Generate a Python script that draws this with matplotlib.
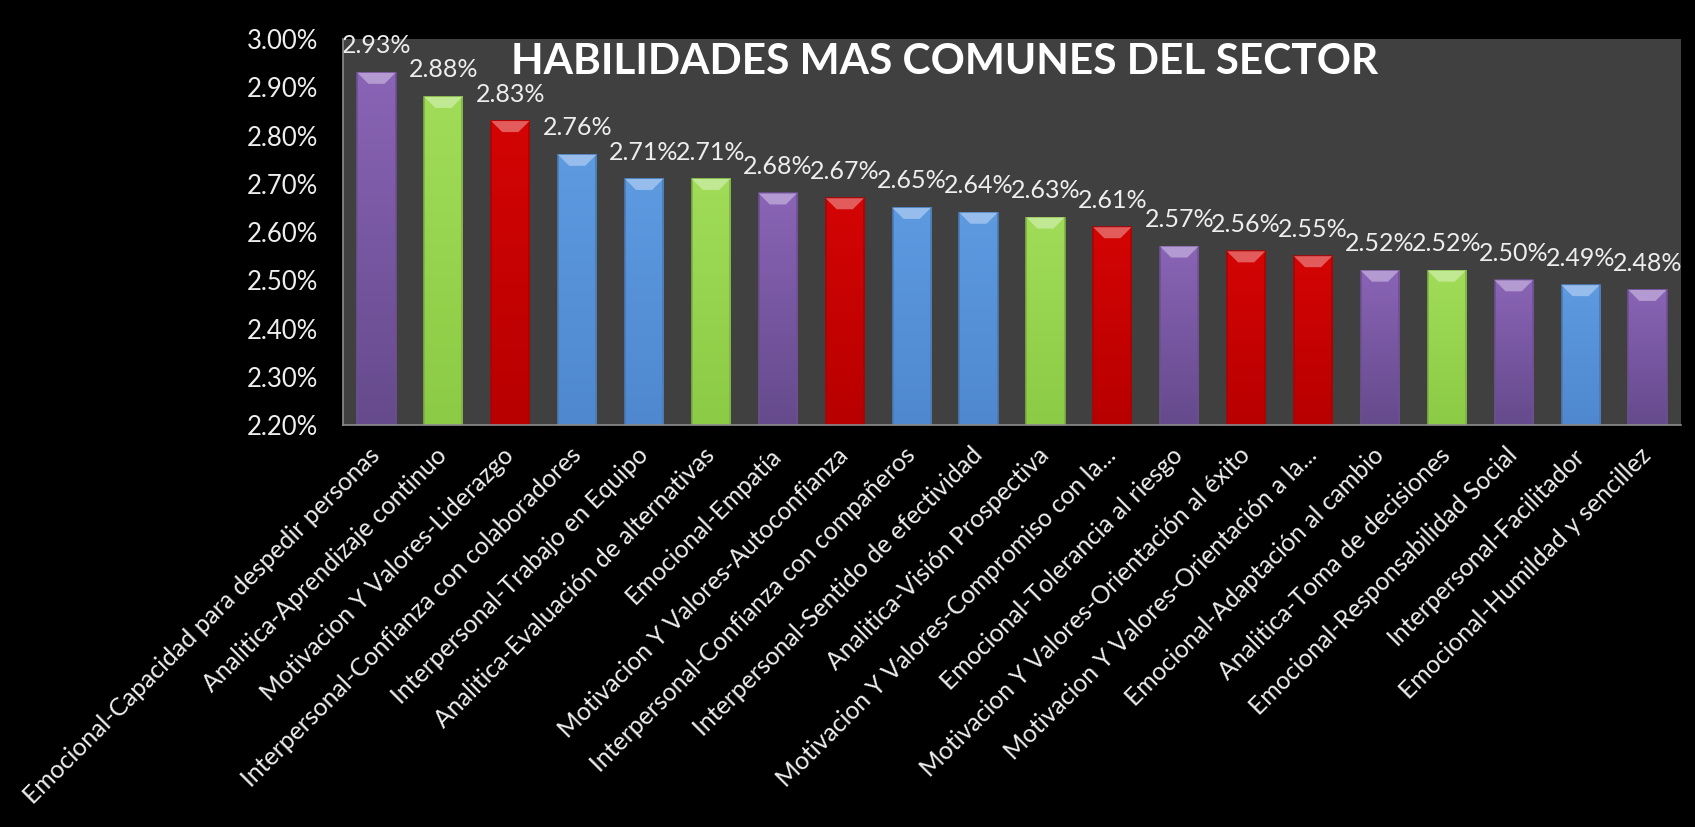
import numpy as np
import matplotlib
matplotlib.use("Agg")
import matplotlib.pyplot as plt
from matplotlib.patches import Polygon, Rectangle
from matplotlib.colors import LinearSegmentedColormap, to_rgb
from matplotlib.ticker import FuncFormatter

# ── data ─────────────────────────────────────
habilidades = [
    "Emocional-Capacidad para despedir personas",
    "Analitica-Aprendizaje continuo",
    "Motivacion Y Valores-Liderazgo",
    "Interpersonal-Confianza con colaboradores",
    "Interpersonal-Trabajo en Equipo",
    "Analitica-Evaluación de alternativas",
    "Emocional-Empatía",
    "Motivacion Y Valores-Autoconfianza",
    "Interpersonal-Confianza con compañeros",
    "Interpersonal-Sentido de efectividad",
    "Analitica-Visión Prospectiva",
    "Motivacion Y Valores-Compromiso con la...",
    "Emocional-Tolerancia al riesgo",
    "Motivacion Y Valores-Orientación al éxito",
    "Motivacion Y Valores-Orientación a la...",
    "Emocional-Adaptación al cambio",
    "Analitica-Toma de decisiones",
    "Emocional-Responsabilidad Social",
    "Interpersonal-Facilitador",
    "Emocional-Humildad y sencillez",
]
porcentajes = [2.93, 2.88, 2.83, 2.76, 2.71, 2.71, 2.68, 2.67, 2.65, 2.64,
               2.63, 2.61, 2.57, 2.56, 2.55, 2.52, 2.52, 2.50, 2.49, 2.48]

# colour by skill family (prefix before the dash): (top, bottom)
colores_familia = {
    "Emocional": ("#8a64b6", "#654a8c"),
    "Analitica": ("#a0dc58", "#8ccb45"),
    "Motivacion Y Valores": ("#d40404", "#b80000"),
    "Interpersonal": ("#5d9ae0", "#4f88cf"),
}

y_min, y_max = 2.20, 3.00
font = "Lato"
txt_color = "#eeeeee"

fig = plt.figure(figsize=(16.95, 8.27), dpi=100, facecolor="black")
ax = fig.add_axes([0.2024, 0.486, 0.7893, 0.4668])
ax.set_facecolor("#404040")

x = np.arange(len(porcentajes))
ancho = 0.57
ax.set_xlim(-0.5, len(porcentajes) - 0.5)
ax.set_ylim(y_min, y_max)

# size of one pixel in data units, used for the bevel on top of each bar
pos = ax.get_position()
px_x = len(porcentajes) / (pos.width * 1695)
px_y = (y_max - y_min) / (pos.height * 827)
bev = 11

for xi, val, nombre in zip(x, porcentajes, habilidades):
    familia = nombre.split("-")[0]
    top_c, bot_c = colores_familia[familia]
    cmap = LinearSegmentedColormap.from_list("g", [bot_c, top_c])
    x0, x1 = xi - ancho / 2, xi + ancho / 2
    grad = np.linspace(0, 1, 100).reshape(-1, 1)
    ax.imshow(grad, extent=[x0, x1, y_min, val], origin="lower",
              cmap=cmap, aspect="auto", zorder=2)
    # darker side edges
    edge = tuple(c * 0.8 for c in to_rgb(top_c))
    ax.add_patch(Rectangle((x0, y_min), ancho, val - y_min, fill=False,
                           edgecolor=edge, lw=1.2, zorder=3))
    # light bevelled cap
    light = tuple(min(1, c + (1 - c) * 0.35) for c in to_rgb(top_c))
    cap = Polygon([(x0, val), (x1, val),
                   (x1 - bev * px_x, val - bev * px_y),
                   (x0 + bev * px_x, val - bev * px_y)],
                  closed=True, facecolor=light, edgecolor="none", zorder=4)
    ax.add_patch(cap)
    ax.annotate(f"{val:.2f}%", (xi, val), xytext=(0, 14),
                textcoords="offset points", ha="center", va="baseline",
                color=txt_color, fontsize=18, family=font, zorder=5,
                annotation_clip=False)

ax.set_yticks(np.arange(y_min, y_max + 0.001, 0.1))
ax.yaxis.set_major_formatter(FuncFormatter(lambda v, p: f"{v:.2f}%"))
ax.tick_params(axis="y", length=0, pad=18, colors=txt_color, labelsize=18.5)
for lab in ax.get_yticklabels():
    lab.set_family(font)

ax.set_xticks(x)
ax.set_xticklabels(habilidades, rotation=45, ha="right", va="center",
                   rotation_mode="anchor", family=font, fontsize=17.8,
                   color=txt_color)
ax.tick_params(axis="x", length=0, pad=19)

for s in ["top", "right"]:
    ax.spines[s].set_visible(False)
for s in ["left", "bottom"]:
    ax.spines[s].set_color("#8c8c8c")
    ax.spines[s].set_linewidth(1.2)
    ax.spines[s].set_zorder(6)

fig.text(0.5575, 0.9245, "HABILIDADES MAS COMUNES DEL SECTOR",
         ha="center", va="center", color="white", fontsize=30.5,
         fontweight="bold", family=font)

fig.savefig("out.png", facecolor="black")
